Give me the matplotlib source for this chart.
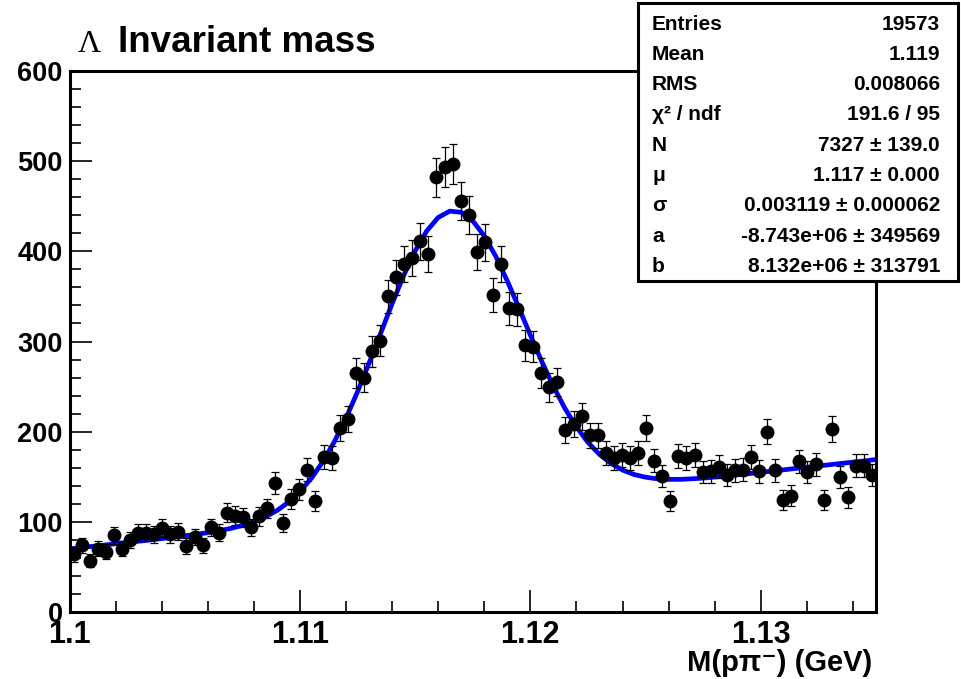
import numpy as np
import matplotlib
matplotlib.use("Agg")
from matplotlib import pyplot as plt
from matplotlib.patches import Rectangle
from matplotlib.ticker import MultipleLocator

# histogram binning: 100 bins between 1.100 and 1.135 GeV
x_lo = 1.100
x_hi = 1.135
n_bins = 100

# bin contents (left to right)
counts = [64, 74, 57, 70, 67, 85, 70, 80, 88, 88,
          86, 93, 86, 89, 73, 83, 74, 94, 88, 110,
          107, 105, 94, 106, 115, 143, 99, 125, 136, 158,
          123, 172, 171, 204, 214, 265, 260, 289, 301, 350,
          371, 386, 393, 411, 397, 482, 494, 497, 456, 440,
          399, 410, 352, 386, 337, 336, 296, 294, 265, 249,
          255, 202, 208, 217, 196, 196, 176, 171, 174, 171,
          176, 204, 168, 151, 123, 173, 171, 174, 155, 156,
          161, 152, 157, 158, 172, 156, 200, 157, 124, 129,
          167, 155, 164, 124, 203, 150, 127, 162, 162, 152]

# fit curve read at steps of 0.0005 GeV
fit_step = 0.0005
fit_vals = [70.0, 71.4, 72.8, 74.2, 75.7, 77.1, 78.5, 79.9, 81.4, 82.9,
            84.5, 86.2, 88.0, 90.2, 92.7, 95.9, 100.0, 105.4, 112.5, 121.7,
            133.5, 148.4, 166.9, 189.2, 215.0, 244.3, 276.0, 308.9, 341.8, 373.0,
            400.5, 422.5, 437.5, 444.6, 443.3, 433.8, 417.1, 394.4, 367.1, 337.5,
            307.1, 277.6, 250.1, 225.8, 205.3, 188.1, 174.8, 164.7, 157.4, 152.5,
            149.5, 147.7, 147.1, 147.1, 147.7, 148.5, 149.6, 150.9, 152.2, 153.5,
            154.9, 156.3, 157.7, 159.2, 160.6, 162.0, 163.4, 164.8, 166.2, 167.6,
            169.1]

x_ticks = [1.10, 1.11, 1.12, 1.13]
x_ticklabels = ["1.1", "1.11", "1.12", "1.13"]
y_ticks = [0, 100, 200, 300, 400, 500, 600]

stat_names = ["Entries", "Mean", "RMS", "\u03c7\u00b2 / ndf", "N", "\u03bc", "\u03c3", "a", "b"]
stat_values = ["19573", "1.119", "0.008066", "191.6 / 95", "7327 \u00b1 139.0",
               "1.117 \u00b1 0.000", "0.003119 \u00b1 0.000062",
               "-8.743e+06 \u00b1 349569", "8.132e+06 \u00b1 313791"]

sans = ["Liberation Sans", "DejaVu Sans"]

W, H = 961, 679
fig = plt.figure(figsize=(W / 100, H / 100), dpi=100)
fig.patch.set_facecolor("white")
ax = fig.add_axes([69.5 / W, 1 - 612 / H, (876 - 69.5) / W, (612 - 71) / H])

bin_w = (x_hi - x_lo) / n_bins
centers = x_lo + (np.arange(n_bins) + 0.5) * bin_w
counts = np.array(counts, dtype=float)
fit_x = x_lo + np.arange(len(fit_vals)) * fit_step

ax.plot(fit_x, fit_vals, color=(0, 0, 1), lw=3.4, zorder=2, solid_capstyle="butt",
        solid_joinstyle="round")
ax.errorbar(centers, counts, yerr=np.sqrt(counts), fmt="o", color="black",
            ms=9, elinewidth=0.9, capsize=2.9, capthick=0.9, zorder=3)

ax.set_xlim(x_lo, x_hi)
ax.set_ylim(0, 600)
ax.set_xticks(x_ticks)
ax.set_xticklabels(x_ticklabels)
ax.set_yticks(y_ticks)
ax.xaxis.set_minor_locator(MultipleLocator(0.002))
ax.yaxis.set_minor_locator(MultipleLocator(20))
ax.tick_params(which="both", direction="in", top=False, right=False, width=1.2)
ax.tick_params(axis="x", which="major", length=16, pad=6)
ax.tick_params(axis="x", which="minor", length=8)
ax.tick_params(axis="y", which="major", length=16, pad=5)
ax.tick_params(axis="y", which="minor", length=8)
for lab in ax.get_xticklabels():
    lab.set_family(sans)
    lab.set_weight("bold")
    lab.set_fontsize(22)
for lab in ax.get_yticklabels():
    lab.set_family(sans)
    lab.set_weight("bold")
    lab.set_fontsize(19.5)
for s in ax.spines.values():
    s.set_linewidth(2.2)

# title
fig.text(78 / W, 1 - 52 / H, "\u039b", family=["Liberation Serif", "DejaVu Serif"],
         fontsize=23, va="baseline", ha="left")
fig.text(118 / W, 1 - 52 / H, "Invariant mass", family=sans, weight="bold",
         fontsize=26.5, va="baseline", ha="left")

# x axis title
fig.text(872 / W, 2 / H, "M(p\u03c0\u207b) (GeV)", family=sans, weight="bold",
         fontsize=21, va="bottom", ha="right")

# stats box
box = Rectangle((638 / W, 1 - 281 / H), 320 / W, 278 / H, transform=fig.transFigure,
                facecolor="white", edgecolor="black", lw=2.2, zorder=10)
fig.patches.append(box)
for i in range(len(stat_names)):
    yy = 1 - (24 + 30.3 * i) / H
    fig.text(652 / W, yy, stat_names[i], family=sans, weight="bold", fontsize=15,
             va="center", ha="left", zorder=11)
    fig.text(940 / W, yy, stat_values[i], family=sans, weight="bold", fontsize=15,
             va="center", ha="right", zorder=11)

plt.savefig("out.png", dpi=100)
